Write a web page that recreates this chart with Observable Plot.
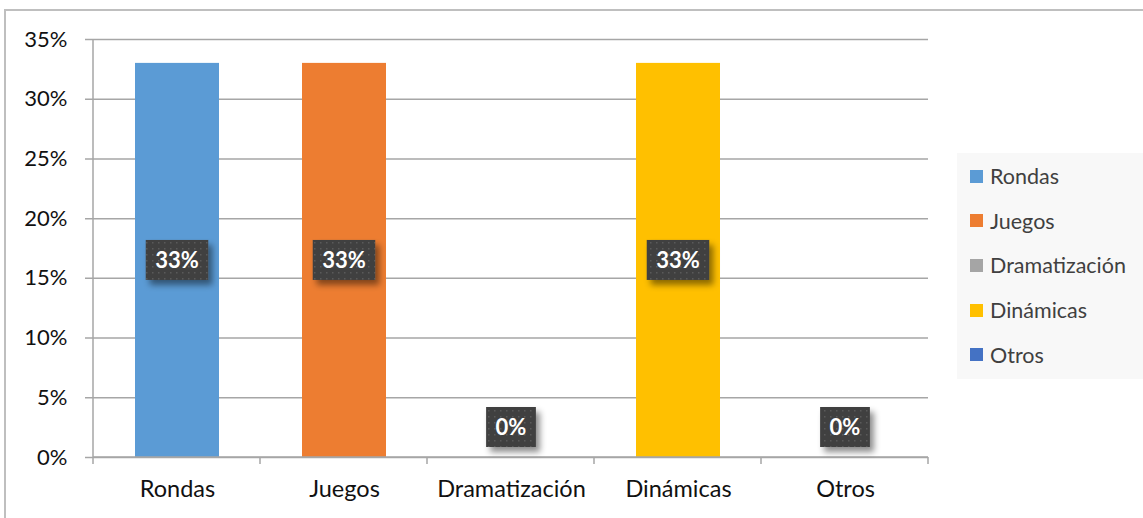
<!DOCTYPE html>
<html>
<head>
<meta charset="utf-8">
<script src="https://cdn.jsdelivr.net/npm/d3@7"></script>
<script src="https://cdn.jsdelivr.net/npm/@observablehq/plot@0.6"></script>
<style>
  html, body { margin: 0; padding: 0; background: #fff; }
  #wrap { position: relative; width: 1143px; height: 518px; overflow: hidden; font-family: Lato, "Open Sans", sans-serif; }
  #border { position: absolute; left: 4px; top: 9px; width: 1160px; height: 540px; border: 2px solid #BFBFBF; box-sizing: border-box; }
  #chart { position: absolute; left: 0; top: 0; }
  #legend { position: absolute; left: 957px; top: 153px; width: 186px; height: 226px; background: #F8F8F8; }
  .item { position: absolute; left: 13px; height: 24px; display: flex; align-items: center; font-size: 21.5px; color: #404040; }
  .sw { width: 13px; height: 13px; margin-right: 7px; flex: none; }
</style>
</head>
<body>
<div id="wrap">
  <div id="border"></div>
  <div id="chart"></div>
  <div id="legend"></div>
</div>
<script>
const categories = ["Rondas", "Juegos", "Dramatización", "Dinámicas", "Otros"];
const values = [0.33, 0.33, 0, 0.33, 0];
const colors = ["#5B9BD5", "#ED7D31", "#A5A5A5", "#FFC000", "#4472C4"];
const yTicks = [0, 0.05, 0.10, 0.15, 0.20, 0.25, 0.30, 0.35];

const data = categories.map((c, i) => ({category: c, value: values[i]}));
const pct = d3.format(".0%");
const gridColor = "#A6A6A6";

// category boundary ticks and left axis line
function boundaries(index, scales, vals, dims) {
  const {width, height, marginLeft, marginRight, marginTop, marginBottom} = dims;
  const n = categories.length;
  const step = (width - marginLeft - marginRight) / n;
  const g = d3.create("svg:g").attr("stroke", gridColor).attr("stroke-width", 1.5);
  const y0 = height - marginBottom;
  g.append("line").attr("x1", marginLeft).attr("x2", marginLeft).attr("y1", marginTop).attr("y2", y0 + 7);
  g.append("line").attr("x1", marginLeft).attr("x2", width - marginRight).attr("y1", y0).attr("y2", y0);
  for (let i = 1; i <= n; i++) {
    const xx = marginLeft + i * step;
    g.append("line").attr("x1", xx).attr("x2", xx).attr("y1", y0).attr("y2", y0 + 7);
  }
  return g.node();
}

// data labels: dark patterned boxes with white bold text
const labelFont = "bold 22px Lato";
const ctx = document.createElement("canvas").getContext("2d");
ctx.font = labelFont;
function labels(index, scales, vals, dims) {
  const x = scales.x, y = scales.y;
  const bw = typeof x.bandwidth === "function" ? x.bandwidth() : x.bandwidth;
  const g = d3.create("svg:g");
  const defs = g.append("defs");
  const pat = defs.append("pattern").attr("id", "dots").attr("width", 6).attr("height", 6).attr("patternUnits", "userSpaceOnUse");
  pat.append("rect").attr("width", 6).attr("height", 6).attr("fill", "#404040");
  pat.append("rect").attr("x", 2).attr("y", 2).attr("width", 1.5).attr("height", 1.5).attr("fill", "#5a5a5a");
  const f = defs.append("filter").attr("id", "shadow").attr("x", "-30%").attr("y", "-30%").attr("width", "170%").attr("height", "170%");
  f.append("feDropShadow").attr("dx", 4).attr("dy", 5).attr("stdDeviation", 3).attr("flood-color", "#000").attr("flood-opacity", 0.45);
  data.forEach(d => {
    const txt = pct(d.value);
    const tw = ctx.measureText(txt).width;
    const w = tw + 19, h = 40;
    const cx = x(d.category) + bw / 2;
    const cy = d.value > 0 ? y(d.value / 2) : y(0) - 30;
    g.append("rect").attr("x", cx - w / 2).attr("y", cy - h / 2).attr("width", w).attr("height", h)
      .attr("fill", "url(#dots)").attr("filter", "url(#shadow)");
    g.append("text").attr("x", cx).attr("y", cy).attr("dy", "0.36em").attr("text-anchor", "middle")
      .attr("fill", "#fff").attr("font-family", "Lato").attr("font-weight", "bold").attr("font-size", 22).text(txt);
  });
  return g.node();
}

const chart = Plot.plot({
  width: 1143,
  height: 518,
  marginLeft: 93,
  marginRight: 215,
  marginTop: 39,
  marginBottom: 61,
  style: {fontFamily: "Lato", fontSize: "22px", color: "#111", background: "transparent"},
  x: {domain: categories, paddingInner: 0.5, paddingOuter: 0.25, axis: null},
  y: {domain: [0, 0.35], axis: null},
  color: {domain: categories, range: colors},
  marks: [
    Plot.gridY({ticks: yTicks, stroke: gridColor, strokeOpacity: 1, strokeWidth: 1.5, insetLeft: -8}),
    Plot.axisY({ticks: yTicks, tickFormat: pct, tickSize: 0, tickPadding: 26, fontSize: 22, label: null}),
    Plot.axisX({tickSize: 0, tickPadding: 23, fontSize: 23.5, label: null}),
    Plot.barY(data, {x: "category", y: "value", fill: "category"}),
    boundaries,
    labels
  ]
});
document.getElementById("chart").appendChild(chart);

const legend = document.getElementById("legend");
categories.forEach((c, i) => {
  const item = document.createElement("div");
  item.className = "item";
  item.style.top = (11 + i * 44.7) + "px";
  const sw = document.createElement("div");
  sw.className = "sw";
  sw.style.background = colors[i];
  const t = document.createElement("span");
  t.textContent = c;
  item.appendChild(sw);
  item.appendChild(t);
  legend.appendChild(item);
});
</script>
</body>
</html>
